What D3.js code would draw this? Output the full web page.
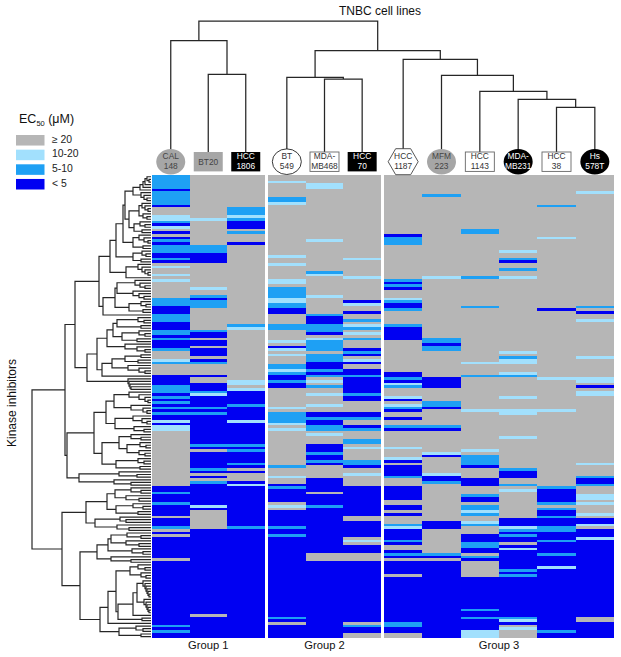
<!DOCTYPE html>
<html><head><meta charset="utf-8">
<script src="https://cdn.jsdelivr.net/npm/d3@7"></script>
<style>html,body{margin:0;padding:0;background:#fff}svg{display:block}text{font-family:"Liberation Sans",Arial,sans-serif}</style>
</head><body><div id="chart"></div>
<script>
const rowCount = 174;
const cellLines = ["CAL 148","BT20","HCC 1806","BT 549","MDA- MB468","HCC 70","HCC 1187","MFM 223","HCC 1143","MDA- MB231","HCC 38","Hs 578T"];
const groups = ["Group 1","Group 2","Group 3"];
const groupOfColumn = [0,0,0,1,1,1,2,2,2,2,2,2];
const legendLabels = ["≥ 20","10-20","5-10","< 5"];
// level 0 is EC50 >= 20 (default), runs are [firstRow,lastRow,level]
const cal148 = [[0,4,2],[5,5,3],[6,10,2],[11,11,3],[15,16,1],[17,17,2],[18,18,3],[19,19,1],[21,21,3],[23,23,3],[24,24,2],[25,25,3],[26,28,2],[29,30,3],[31,31,2],[32,32,3],[34,34,1],[37,37,1],[39,39,1],[46,48,2],[49,51,3],[52,54,2],[55,57,3],[58,59,2],[60,60,3],[61,61,2],[62,64,3],[65,65,2],[69,69,1],[70,70,2],[75,78,3],[79,81,2],[82,82,3],[83,83,2],[84,84,3],[85,85,2],[86,86,3],[87,87,2],[88,88,3],[89,89,2],[90,91,3],[92,92,1],[93,93,3],[94,95,1],[117,118,3],[119,119,2],[120,122,3],[123,123,2],[124,127,3],[129,131,3],[132,132,2],[134,134,3],[136,143,3],[145,168,3],[169,169,2],[170,170,3],[171,171,2],[172,173,3]];
const bt20 = [[16,16,1],[26,28,2],[29,32,3],[42,42,1],[45,45,2],[46,46,3],[47,49,2],[58,58,2],[59,60,3],[62,63,3],[65,67,3],[69,69,3],[70,70,2],[75,75,3],[78,80,3],[81,81,2],[82,82,1],[83,86,3],[87,87,2],[88,88,3],[89,89,2],[90,100,3],[101,101,2],[102,102,3],[104,109,3],[110,110,2],[111,111,3],[113,113,3],[115,115,2],[116,123,3],[124,124,1],[125,125,3],[133,164,3],[166,173,3]];
const hcc1806 = [[12,14,2],[15,15,1],[16,16,2],[17,19,3],[21,21,2],[25,25,3],[56,56,2],[57,57,1],[77,78,1],[80,80,1],[81,85,3],[86,86,2],[87,91,3],[92,92,1],[93,100,3],[101,101,2],[102,102,3],[103,103,2],[104,107,3],[108,108,2],[109,109,3],[111,111,3],[115,115,3],[116,116,1],[117,131,3],[132,132,2],[133,173,3]];
const bt549 = [[2,2,1],[8,9,2],[10,10,1],[30,30,1],[33,33,1],[39,40,1],[42,45,2],[46,47,1],[48,49,2],[50,51,3],[56,57,2],[62,62,1],[64,64,3],[65,65,1],[67,67,1],[71,72,2],[73,73,1],[74,74,2],[75,76,3],[77,77,2],[78,79,3],[87,87,1],[89,92,2],[93,93,1],[95,95,1],[109,109,2],[113,113,1],[116,116,3],[117,117,2],[118,122,3],[124,124,1],[126,131,3],[132,132,2],[133,134,3],[135,135,2],[136,165,3],[166,166,2],[167,167,3],[169,173,3]];
const mdaMb468 = [[3,4,1],[24,24,1],[36,36,2],[37,37,1],[45,45,1],[52,52,2],[53,55,3],[56,58,2],[59,59,3],[61,61,1],[62,65,2],[67,69,2],[70,72,3],[73,73,2],[74,74,3],[75,75,2],[77,77,1],[79,79,2],[82,82,1],[86,86,1],[89,90,3],[91,91,2],[92,93,3],[94,95,2],[97,97,1],[101,103,3],[104,104,2],[105,106,3],[107,107,2],[108,108,3],[114,118,3],[120,123,3],[124,124,2],[125,141,3],[145,173,3]];
const hcc70 = [[31,31,1],[38,38,1],[47,47,3],[48,48,1],[51,51,3],[54,54,2],[56,56,1],[57,57,2],[59,59,1],[61,61,2],[65,65,3],[66,66,2],[67,67,3],[69,69,1],[70,70,3],[73,74,3],[75,75,2],[76,81,3],[82,82,2],[83,84,3],[89,90,3],[91,91,2],[94,94,3],[95,95,2],[99,100,2],[102,102,1],[107,108,2],[109,109,3],[112,112,1],[117,127,3],[130,135,3],[137,137,1],[139,141,3],[145,167,3],[169,169,2],[170,171,3]];
const hcc1187 = [[22,22,3],[23,25,2],[39,39,2],[40,40,3],[41,41,2],[42,42,3],[46,46,1],[47,47,2],[48,49,3],[50,50,2],[56,56,2],[57,61,3],[74,75,3],[76,76,2],[77,77,3],[78,78,1],[79,79,2],[83,83,1],[84,84,3],[86,86,1],[87,87,2],[88,88,3],[91,91,3],[94,94,2],[95,95,3],[102,102,1],[106,106,1],[107,107,3],[109,112,3],[113,113,2],[117,121,3],[124,125,3],[127,127,3],[131,131,2],[132,132,1],[133,136,3],[137,137,2],[138,138,3],[141,141,3],[142,142,2],[143,143,3],[145,149,3],[151,167,3],[168,169,2],[170,171,3]];
const mfm223 = [[7,7,2],[38,38,1],[61,62,2],[63,63,3],[64,65,2],[76,79,3],[85,86,2],[87,87,3],[94,94,2],[95,95,3],[104,104,1],[105,105,3],[112,112,1],[113,114,3],[115,115,2],[130,132,3],[142,142,2],[143,143,3],[145,173,3]];
const hcc1143 = [[20,21,2],[38,38,2],[49,49,2],[70,70,1],[75,75,2],[88,88,1],[103,103,1],[105,108,2],[109,109,3],[114,116,3],[120,120,2],[121,122,3],[124,125,2],[126,126,1],[127,127,2],[130,130,1],[131,131,2],[135,137,3],[138,139,2],[140,141,3],[143,143,2],[144,144,3],[151,162,3],[163,163,2],[164,165,3],[166,166,2],[167,170,3],[171,173,1]];
const mdaMb231 = [[28,28,1],[31,31,2],[32,32,3],[35,35,2],[38,38,1],[66,66,1],[68,68,2],[69,70,1],[74,74,1],[75,75,2],[83,83,1],[88,89,1],[98,98,1],[110,110,2],[111,113,3],[116,116,2],[118,118,1],[129,131,3],[132,132,1],[133,133,2],[134,134,3],[135,135,2],[136,137,3],[139,139,3],[140,140,1],[141,147,3],[148,148,2],[149,149,3],[150,150,2],[151,165,3],[166,166,2],[167,167,1],[168,168,3],[170,170,1]];
const hcc38 = [[11,11,2],[23,23,1],[50,50,3],[76,76,1],[88,88,1],[117,117,2],[118,122,3],[123,123,2],[125,125,2],[126,127,3],[128,128,2],[129,131,3],[132,133,2],[134,136,3],[137,137,2],[138,141,3],[142,142,2],[143,146,3],[147,147,1],[148,170,3],[171,171,2],[172,173,3]];
const hs578T = [[6,6,1],[49,49,2],[51,51,3],[54,54,1],[68,68,1],[76,77,1],[79,79,3],[81,82,1],[108,108,1],[113,113,2],[114,115,3],[116,116,2],[120,121,1],[123,123,1],[127,127,1],[129,130,3],[131,131,1],[133,135,3],[136,136,1],[137,165,3],[168,173,3]];
const columnRuns = [cal148,bt20,hcc1806,bt549,mdaMb468,hcc70,hcc1187,mfm223,hcc1143,mdaMb231,hcc38,hs578T];

// dendrogram merge heights: node = [height, child, child], 0 = leaf
const comb = (...h) => h.length === 1 ? [h[0],0,0] : [h[0],0,comb(...h.slice(1))];
const topTree = [140,[120.3,0,[86.7,0,0]],[110.3,[83.7,0,[82,0,0]],[101.7,0,[85.7,0,[69.7,0,[61.7,0,[53.7,0,0]]]]]]];
const rowU = [18,[11,[8,[6,comb(4,2),0],0],0],comb(10,7,4)];
const rowV = [22,[12,comb(9,6,3),comb(8,4)],[17,comb(11,6),comb(9)]];
const rowP = [35,[28,[26,rowU,rowV],[18,comb(12,7,3),comb(8)]],[18,comb(9,5),comb(10)]];
const rowQ = [25,comb(13,9,6,3),0];
const rowX = [36,[34,comb(16,11,6),comb(18,12,7)],[22,comb(10,5),comb(8)]];
const rowA1a = [52,[41,rowP,rowQ],[48,rowX,0]];
const rowA1b1 = [54,[44,[38,[34,comb(13,7),comb(10)],[29,comb(12,6),comb(14)]],comb(26,14,6)],[49,[39,[26,comb(10),comb(13)],comb(23,12,6)],0]];
const rowA1b = [64,rowA1b1,comb(23,22,21,20)];
const rowA2a = [57,[45,[37,comb(22,12,6,3),comb(20,8,4)],[36,comb(18,9,4),comb(17,7)]],[49,[32,comb(20,10),[24,comb(11,5),comb(12,6)]],[35,comb(13,7),comb(11)]]];
const rowA = [86,[76,rowA1a,rowA1b],[84,rowA2a,[72,comb(32,14),comb(37,20)]]];
const rowB1 = [65,[44,[36,comb(20,10),comb(25,12)],[35,comb(18,8),comb(13)]],[56,comb(31,25),comb(34,22)]];
const rowB2a = [54,[43,[40,comb(24,10),comb(25,12)],comb(19,8)],comb(40,20)];
const rowDense = [14,comb(8,6,5,4,3,2),comb(7,5,4,3,2)];
const rowB2b = [51,[43,[35,[21,comb(13,6),comb(10,5)],[33,[18,rowDense,0],comb(9)]],0],[32,comb(15,8),comb(10)]];
const rowB = [89,rowB1,[71,rowB2a,rowB2b]];
const rowTree = [119,rowA,rowB];

const W = 621, H = 657;
const levels = [0,1,2,3];
const color = d3.scaleOrdinal().domain(levels).range(["#b6b6b6","#a2e0fd","#1ea0f4","#0000f2"]);
const svg = d3.select("#chart").append("svg").attr("width",W).attr("height",H).attr("viewBox",[0,0,W,H]);

const y = d3.scaleBand().domain(d3.range(rowCount)).range([175.4,638]);
const groupRanges = [[152,264.5],[268,381],[384,614]];
const xs = groups.map((g,i) => d3.scaleBand()
  .domain(d3.range(cellLines.length).filter(c => groupOfColumn[c] === i))
  .range(groupRanges[i]));
const colX = c => xs[groupOfColumn[c]](c);
const colW = c => xs[groupOfColumn[c]].bandwidth();
const colMid = c => colX(c) + colW(c)/2;

// expand runs to per-row values
const matrix = columnRuns.map(runs => {
  const v = new Array(rowCount).fill(0);
  runs.forEach(([a,b,l]) => { for (let r=a;r<=b;r++) v[r]=l; });
  return v;
});
const cols = svg.append("g").attr("shape-rendering","crispEdges").selectAll("g").data(matrix).join("g");
cols.selectAll("rect").data((v,c) => v.map((l,r) => ({c,r,l}))).join("rect")
  .attr("x",d => colX(d.c)).attr("width",d => colW(d.c))
  .attr("y",d => y(d.r)).attr("height",y.bandwidth())
  .attr("fill",d => color(d.l));

// dendrograms
function layout(node, leafPos, counter, segs, baseVal) {
  if (node === 0) { const p = leafPos(counter.i++); return {p, h:baseVal}; }
  const a = layout(node[1],leafPos,counter,segs,baseVal);
  const b = layout(node[2],leafPos,counter,segs,baseVal);
  const p = (a.p+b.p)/2, h = node[0];
  segs.push({p1:a.p,h1:a.h,p2:b.p,h2:b.h,h});
  return {p,h};
}
const lineStroke = "#262626";
// top tree
const topH = d3.scaleLinear().domain([0,140]).range([161,21]);
const topSegs = [];
layout(topTree,colMid,{i:0},topSegs,0);
svg.append("g").selectAll("path").data(topSegs).join("path")
  .attr("fill","none").attr("stroke",lineStroke).attr("stroke-width",1.25)
  .attr("d",d => `M${d.p1},${topH(d.h1)}V${topH(d.h)}H${d.p2}V${topH(d.h2)}`);
// row tree
const rowH = d3.scaleLinear().domain([0,119]).range([151,32]);
const rowSegs = [];
const rowMid = r => y(r)+y.bandwidth()/2;
layout(rowTree,rowMid,{i:0},rowSegs,0);
svg.append("g").selectAll("path").data(rowSegs).join("path")
  .attr("fill","none").attr("stroke",lineStroke).attr("stroke-width",1.2)
  .attr("d",d => `M${rowH(d.h1)},${d.p1}H${rowH(d.h)}V${d.p2}H${rowH(d.h2)}`);

// cell line badges
const badgeShape = ["ellipse","rect","rect","ellipse","rect","rect","hex","ellipse","rect","ellipse","rect","ellipse"];
const badgeFill = ["#a6a6a6","#a6a6a6","#000","#fff","#fff","#000","#fff","#a6a6a6","#fff","#000","#fff","#000"];
const badgeStroke = ["none","none","none","#222","#666","none","#444","none","#666","none","#666","none"];
const badgeText = ["#444","#444","#fff","#333","#333","#fff","#333","#444","#333","#fff","#333","#fff"];
const cy = 161.7;
const badges = svg.append("g").selectAll("g").data(cellLines).join("g")
  .attr("transform",(d,i) => `translate(${colMid(i)},${cy})`);
badges.each(function(d,i){
  const g = d3.select(this);
  let el;
  if (badgeShape[i]==="ellipse") el = g.append("ellipse").attr("rx",14.5).attr("ry",12.8);
  else if (badgeShape[i]==="rect") el = g.append("rect").attr("x",-14.5).attr("y",-9.7).attr("width",29).attr("height",19.4);
  else el = g.append("polygon").attr("points","-15,0 -7.5,-13 7.5,-13 15,0 7.5,13 -7.5,13");
  el.attr("fill",badgeFill[i]).attr("stroke",badgeStroke[i]).attr("stroke-width",0.9);
  const parts = d.split(" ");
  parts.forEach((t,k) => g.append("text").text(t)
    .attr("text-anchor","middle").attr("font-size",8.4).attr("fill",badgeText[i])
    .attr("y",parts.length===1 ? 3 : (k===0 ? -2.3 : 7.3)));
});

// titles
svg.append("text").text("TNBC cell lines").attr("x",380).attr("y",14.5).attr("text-anchor","middle").attr("font-size",12).attr("fill","#111");
svg.append("text").text("Kinase inhibitors").attr("transform","translate(15.5,403) rotate(-90)").attr("text-anchor","middle").attr("font-size",12).attr("fill","#111");
svg.append("g").selectAll("text").data(groups).join("text").text(d => d)
  .attr("x",(d,i) => d3.mean(groupRanges[i])).attr("y",649).attr("text-anchor","middle").attr("font-size",11.2).attr("fill","#111");

// legend
const title = svg.append("text").attr("x",19).attr("y",123).attr("font-size",12.5).attr("fill","#111");
title.append("tspan").text("EC");
title.append("tspan").text("50").attr("font-size",7.5).attr("dy",3);
title.append("tspan").text(" (μM)").attr("dy",-3);
const legY = d3.scaleBand().domain(levels).range([135,189.5]).paddingInner(0.28);
svg.append("g").selectAll("rect").data(levels).join("rect")
  .attr("x",16).attr("width",28.5).attr("y",d => legY(d)).attr("height",legY.bandwidth()).attr("fill",d => color(d));
svg.append("g").selectAll("text").data(levels).join("text").text(d => legendLabels[d])
  .attr("x",52).attr("y",d => legY(d)+legY.bandwidth()/2+2.5).attr("font-size",10.4).attr("fill","#222");
</script></body></html>
